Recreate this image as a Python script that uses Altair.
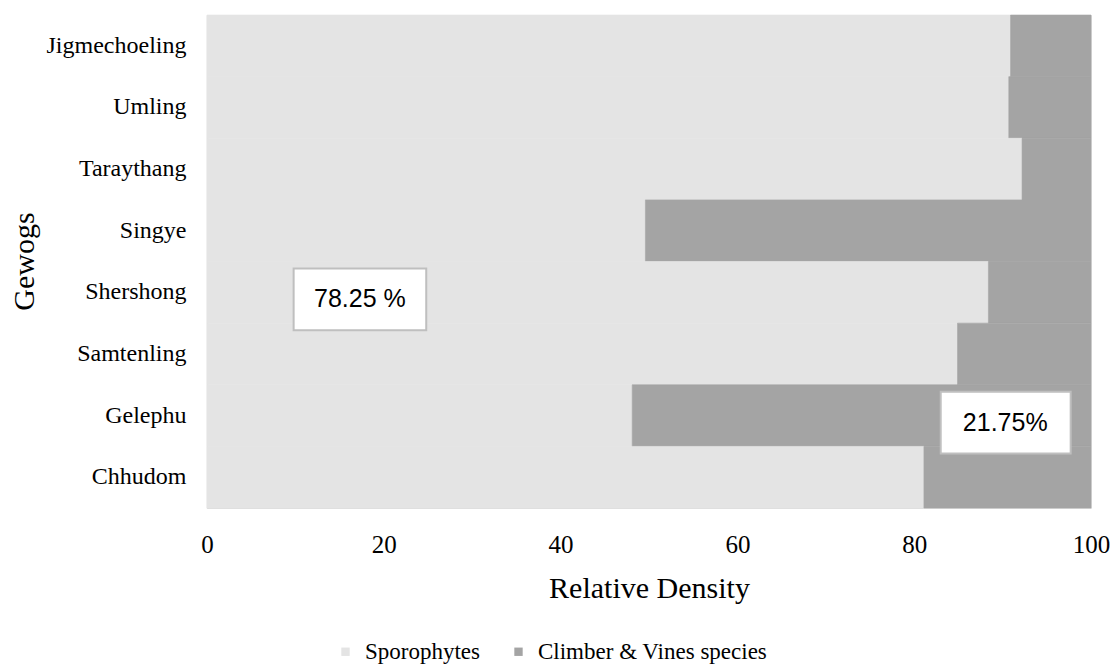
import altair as alt
import pandas as pd

gewogs = ["Jigmechoeling", "Umling", "Taraythang", "Singye",
          "Shershong", "Samtenling", "Gelephu", "Chhudom"]
sporophytes = [90.9, 90.7, 92.2, 49.6, 88.4, 84.9, 48.1, 81.1]
climbers = [round(100 - v, 1) for v in sporophytes]
series = ["Sporophytes", "Climber & Vines species"]
colors = ["#e4e4e4", "#a4a4a4"]

ann_text = ["78.25 %", "21.75%"]
ann_gewog = ["Shershong", "Gelephu"]
ann_x0 = [9.8, 83.0]
ann_x1 = [24.8, 97.7]
ann_xc = [17.3, 90.3]

rows = []
for g, s, c in zip(gewogs, sporophytes, climbers):
    rows.append({"Gewog": g, "Type": series[0], "Value": s, "ord": 0})
    rows.append({"Gewog": g, "Type": series[1], "Value": c, "ord": 1})
df = pd.DataFrame(rows)

ann = pd.DataFrame({"text": ann_text, "Gewog": ann_gewog,
                    "x0": ann_x0, "x1": ann_x1, "xc": ann_xc})

SERIF = "Liberation Serif"

yscale = alt.Scale(domain=gewogs, paddingInner=0, paddingOuter=0)
xscale = alt.Scale(domain=[0, 100], nice=False)

bars = alt.Chart(df).mark_bar(strokeWidth=0.6).encode(
    x=alt.X("Value:Q", stack="zero", scale=xscale,
            axis=alt.Axis(title="Relative Density", values=[0, 20, 40, 60, 80, 100],
                          grid=False, ticks=False, domain=False,
                          labelFont=SERIF, labelFontSize=25, labelColor="black",
                          labelPadding=24, labelFlush=False,
                          titleFont=SERIF, titleFontSize=30, titleFontWeight="normal",
                          titleColor="black", titleY=80, titleBaseline="middle")),
    y=alt.Y("Gewog:N", sort=gewogs, scale=yscale,
            axis=alt.Axis(title="Gewogs", ticks=False, grid=False,
                          domainColor="#d9d9d9", domainWidth=1.5,
                          labelFont=SERIF, labelFontSize=24, labelColor="black",
                          labelPadding=21, labelLimit=0,
                          titleFont=SERIF, titleFontSize=30, titleFontWeight="normal",
                          titleColor="black", titleX=-183, titleY=246,
                          titleAlign="center", titleBaseline="middle", titleAngle=-90)),
    color=alt.Color("Type:N", scale=alt.Scale(domain=series, range=colors),
                    legend=alt.Legend(title=None, orient="none", direction="horizontal",
                                      legendX=127, legendY=625, padding=0,
                                      labelFont=SERIF, labelFontSize=23, labelColor="black",
                                      labelOffset=8, columnPadding=27, labelLimit=0,
                                      symbolType="square", symbolSize=70,
                                      symbolStrokeWidth=0)),
    stroke=alt.Stroke("Type:N", scale=alt.Scale(domain=series, range=colors), legend=None),
    order=alt.Order("ord:Q"),
)

boxes = alt.Chart(ann).mark_rect(fill="white", stroke="#bfbfbf", strokeWidth=2, yOffset=7).encode(
    x=alt.X("x0:Q", scale=xscale),
    x2="x1:Q",
    y=alt.Y("Gewog:N", sort=gewogs, scale=yscale),
)

labels = alt.Chart(ann).mark_text(font="Liberation Sans", fontSize=25, color="black",
                                  align="center", baseline="middle", yOffset=7).encode(
    x=alt.X("xc:Q", scale=xscale),
    y=alt.Y("Gewog:N", sort=gewogs, scale=yscale),
    text="text:N",
)

chart = alt.layer(bars, boxes, labels).properties(
    width=884, height=493,
    autosize=alt.AutoSizeParams(type="none"),
    padding={"left": 199, "top": 7, "right": 21, "bottom": 162},
).configure_view(stroke=None).configure(background="white")

chart.save("out.html", embed_options={"renderer": "svg", "actions": False})
